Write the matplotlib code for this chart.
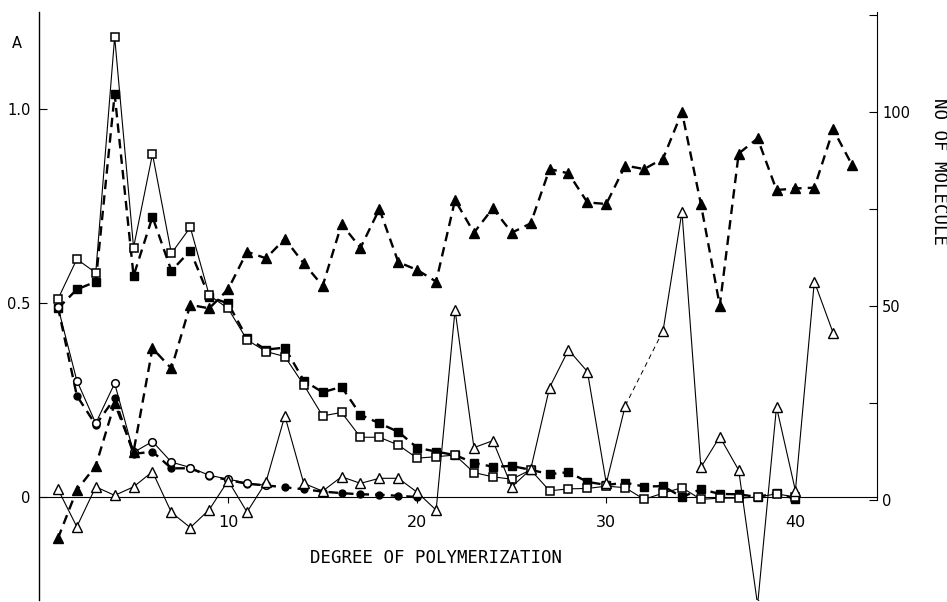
import numpy as np
import matplotlib
matplotlib.use('Agg')
import matplotlib.pyplot as plt

# Absorbance (A) per degree of polymerization
dp_sq = np.arange(1, 41)
a_open_sq = [0.51, 0.613, 0.578, 1.186, 0.643, 0.884, 0.628, 0.695, 0.52, 0.486,
             0.405, 0.375, 0.362, 0.289, 0.209, 0.218, 0.154, 0.154, 0.134, 0.10,
             0.104, 0.108, 0.063, 0.052, 0.046, 0.07, 0.016, 0.021, 0.022, 0.028,
             0.024, -0.006, 0.01, 0.024, -0.006, -0.003, -0.003, 0.0, 0.008, 0.0]
a_fill_sq = [0.486, 0.535, 0.555, 1.038, 0.57, 0.722, 0.583, 0.635, 0.516, 0.499,
             0.41, 0.38, 0.385, 0.30, 0.27, 0.284, 0.212, 0.19, 0.168, 0.127,
             0.117, 0.108, 0.088, 0.078, 0.08, 0.07, 0.059, 0.064, 0.039, 0.031,
             0.037, 0.027, 0.028, 0.0, 0.02, 0.008, 0.007, 0.0, 0.011, -0.006]

dp_fill_ci = np.arange(1, 21)
a_fill_ci = [0.49, 0.261, 0.186, 0.254, 0.111, 0.117, 0.074, 0.074, 0.054, 0.044,
             0.034, 0.03, 0.025, 0.02, 0.014, 0.01, 0.007, 0.006, 0.003, 0.0]
dp_open_ci = np.arange(1, 13)
a_open_ci = [0.49, 0.30, 0.19, 0.293, 0.115, 0.143, 0.09, 0.076, 0.056, 0.046,
             0.036, 0.03]

# Number of molecules (right axis)
dp_fill_tri = np.arange(1, 44)
n_fill_tri = [-9.9, 2.6, 8.8, 24.9, 12.5, 39.1, 33.9, 50.3, 49.4, 54.3,
              64.0, 62.3, 67.3, 61.0, 55.2, 71.1, 65.0, 75.0, 61.3, 59.3,
              56.3, 77.3, 68.9, 75.2, 68.9, 71.3, 85.3, 84.2, 76.7, 76.3,
              86.2, 85.3, 88.0, 100.0, 76.3, 50.1, 89.3, 93.2, 79.9, 80.3,
              80.5, 95.5, 86.3]
dp_open_tri = np.arange(1, 43)
n_open_tri = [2.8, -6.9, 3.4, 1.2, 3.4, 7.3, -3.2, -7.1, -2.5, 5.0,
              -3.1, 4.6, 21.7, 4.3, 2.3, 6.0, 4.3, 5.6, 5.6, 2.0,
              -2.6, 49.0, 13.5, 15.3, 3.4, 7.9, 29.0, 38.7, 33.1, 4.3,
              24.3, np.nan, 43.6, 74.3, 8.4, 16.3, 7.7, -27.0, 24.0, 2.4,
              56.3, 43.0]

fig = plt.figure(figsize=(9.47, 6.02), dpi=100)
ax = fig.add_axes([0.0412, 0.0033, 0.8846, 0.9767])
ax2 = ax.twinx()

dash = (0, (4, 2.6))
thin = dict(color='black', lw=0.8)
thick = dict(color='black', lw=1.7, linestyle=dash)

ax.plot(dp_sq, a_open_sq, marker='s', ms=6, mfc='white', mec='black', mew=1.1,
        zorder=4, **thin)
ax.plot(dp_sq, a_fill_sq, marker='s', ms=6, mfc='black', mec='black',
        zorder=3, **thick)
ax.plot(dp_open_ci, a_open_ci, marker='o', ms=5.5, mfc='white', mec='black',
        mew=1.1, zorder=4, **thin)
ax.plot(dp_fill_ci, a_fill_ci, marker='o', ms=5, mfc='black', mec='black',
        zorder=3, **thick)

ax2.plot(dp_fill_tri, n_fill_tri, marker='^', ms=6.5, mfc='black', mec='black',
         zorder=3, **thick)
ax2.plot(dp_open_tri, n_open_tri, marker='^', ms=6.5, mfc='white', mec='black',
         mew=1.0, zorder=4, **thin)
# gap at DP 32 bridged with a light dashed line
i31, i33 = 30, 32
ax2.plot([dp_open_tri[i31], dp_open_tri[i33]], [n_open_tri[i31], n_open_tri[i33]],
         color='black', lw=0.7, linestyle=(0, (5, 4)), zorder=2)

ax.set_xlim(0, 44.3)
ax.set_ylim(-0.2655, 1.25)
ax2.set_ylim(-25.77, 125.77)

for s in ['top', 'right']:
    ax.spines[s].set_visible(False)
ax.spines['bottom'].set_position(('data', 0))
ax.spines['left'].set_linewidth(1.0)
ax.set_xticks([10, 20, 30, 40])
ax.tick_params(axis='x', direction='out', length=4, pad=9, labelsize=11.5)
ax.set_yticks([0, 0.5, 1.0])
ax.set_yticklabels(['0', '0.5', '1.0'])
ax.tick_params(axis='y', direction='in', length=6, pad=6, labelsize=10.5)

for s in ['top', 'left', 'bottom']:
    ax2.spines[s].set_visible(False)
ax2.spines['right'].set_bounds(0, 125.77)
ax2.set_yticks([0, 25, 50, 75, 100, 125])
ax2.set_yticklabels(['0', '', '50', '', '100', ''])
ax2.tick_params(axis='y', direction='in', length=6, pad=4, labelsize=10.5)

mono = 'DejaVu Sans Mono'
fig.text(17 / 947, 1 - 43 / 602, 'A', ha='center', va='center', fontsize=10.5)
fig.text(436 / 947, 1 - 558 / 602, 'DEGREE OF POLYMERIZATION', ha='center',
         va='center', fontsize=12.5, family=mono)
fig.text(939 / 947, 1 - 172 / 602, 'NO OF MOLECULE', ha='center', va='center',
         rotation=270, fontsize=12.5, family=mono)

fig.savefig('out.png', dpi=100)
